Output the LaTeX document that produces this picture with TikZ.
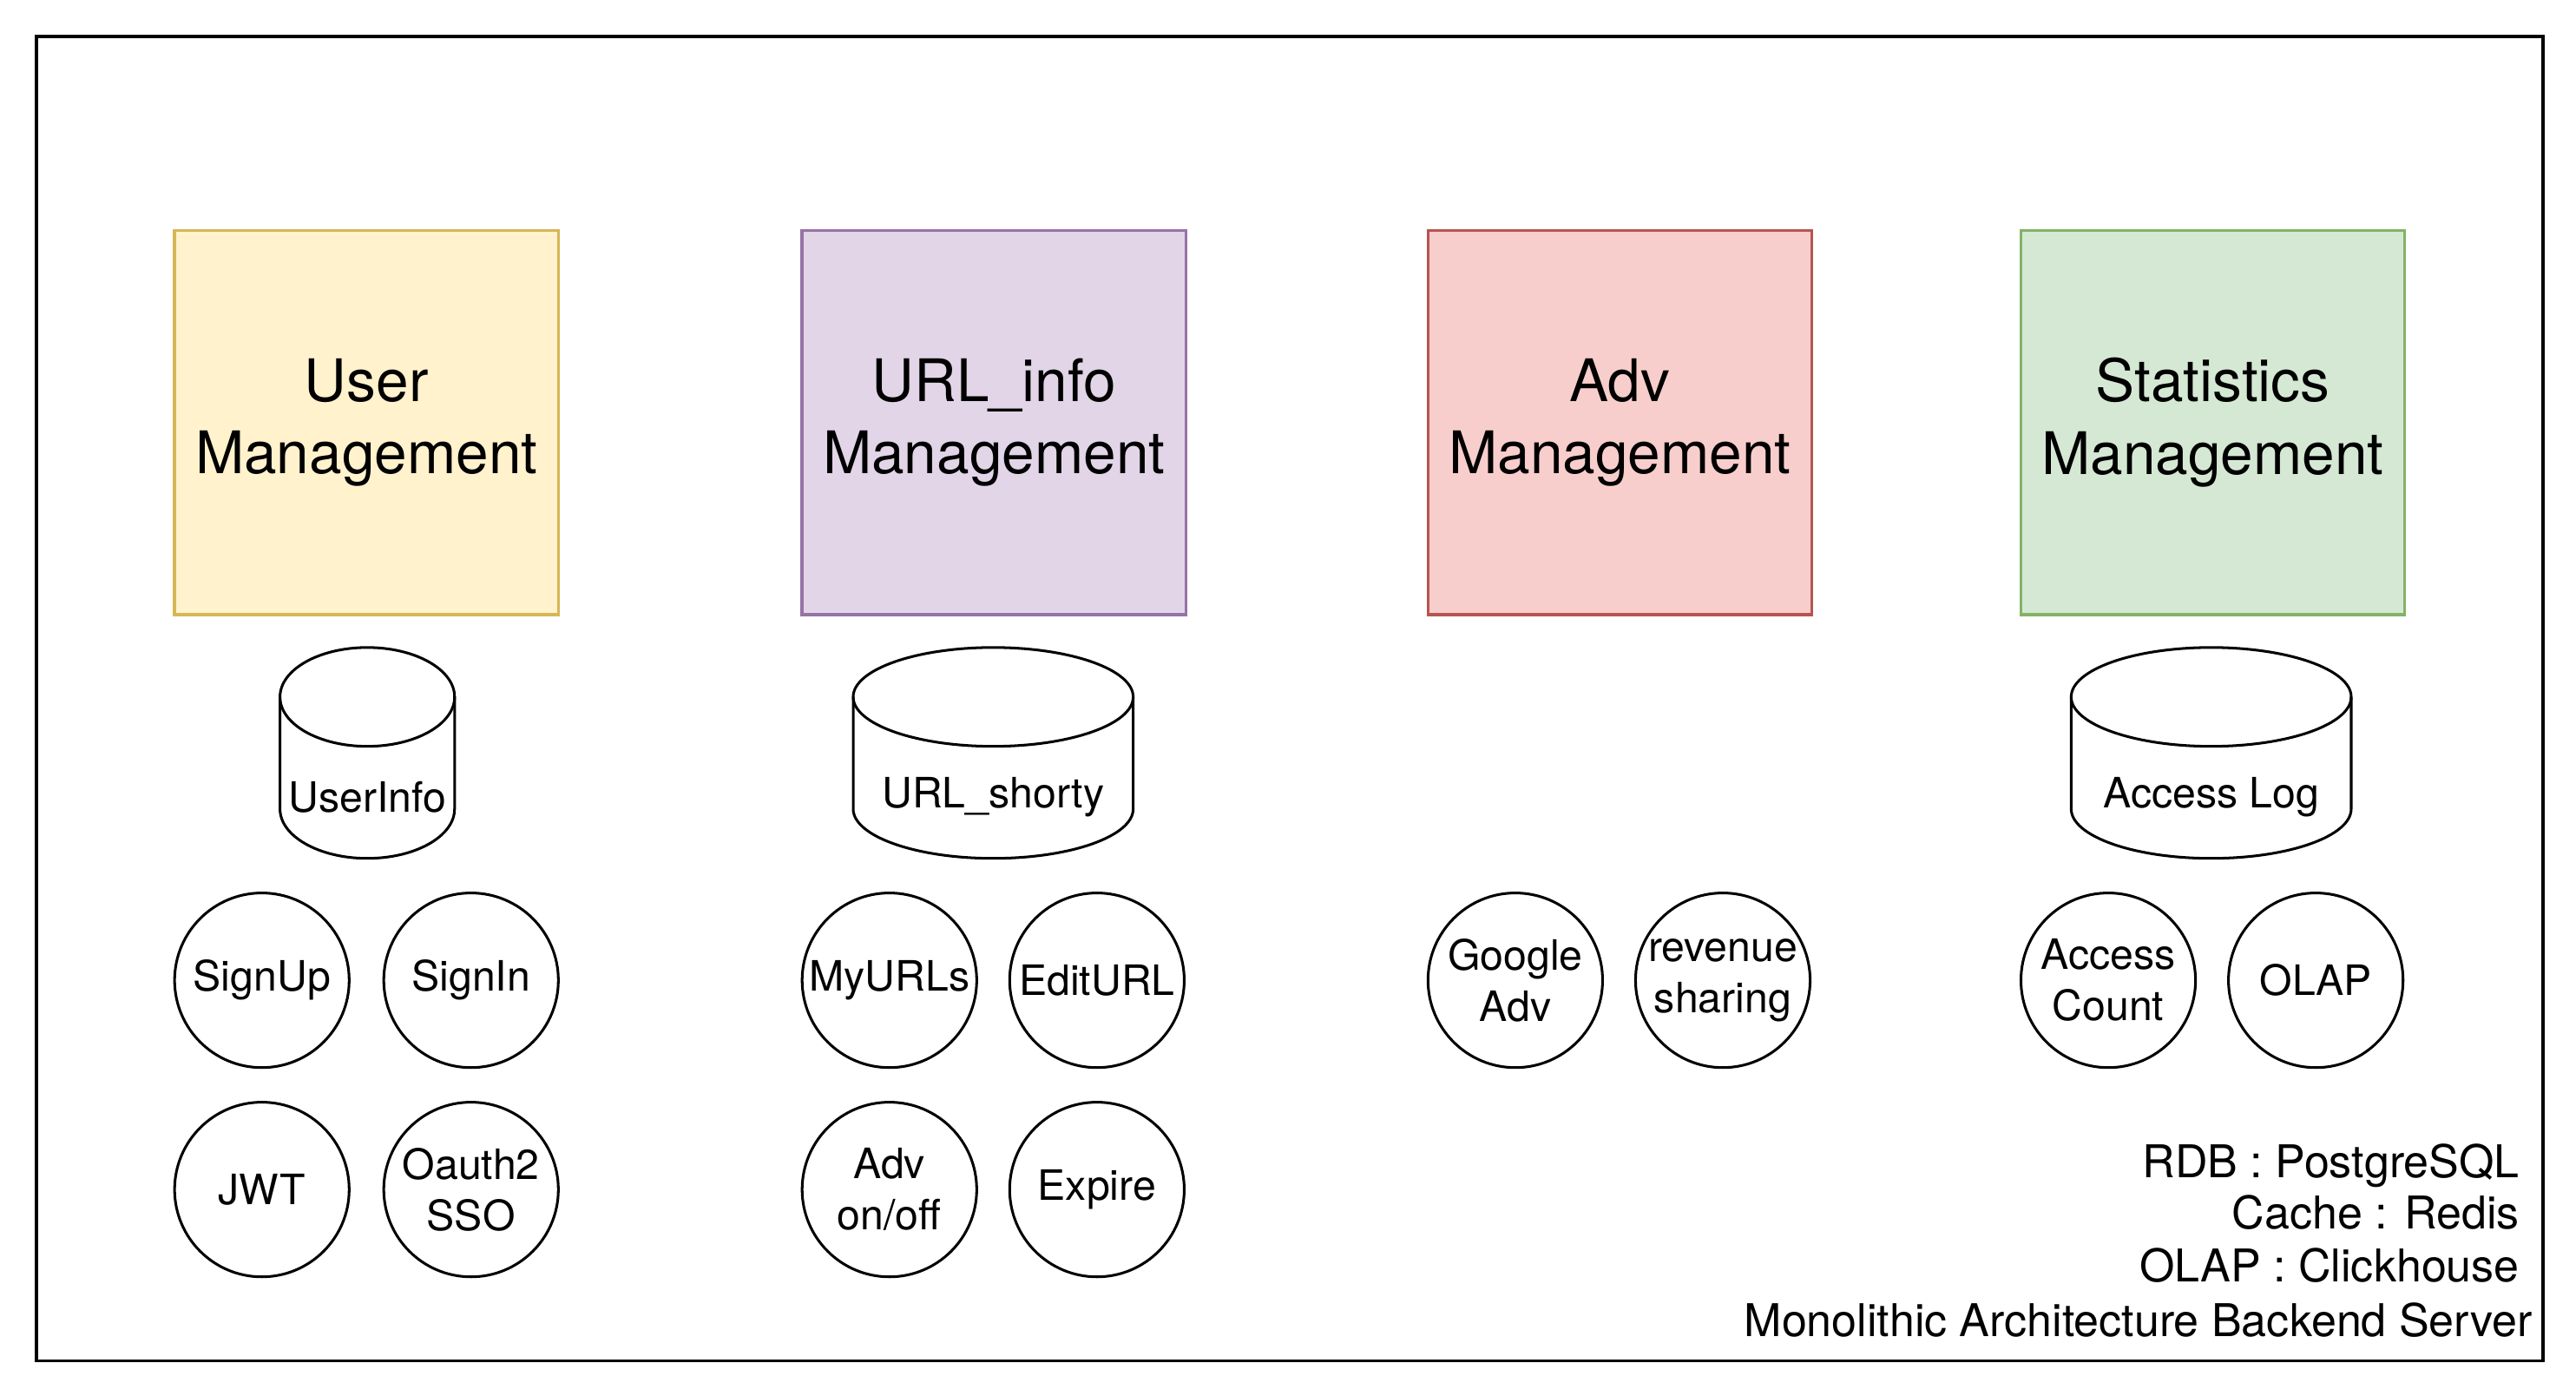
\documentclass[tikz,border=0pt]{standalone}
\usepackage{fontspec}
\setmainfont{TeX Gyre Heros}
\definecolor{yfill}{HTML}{FFF2CC}\definecolor{ydraw}{HTML}{D6B656}
\definecolor{pfill}{HTML}{E1D5E7}\definecolor{pdraw}{HTML}{9673A6}
\definecolor{rfill}{HTML}{F8CECC}\definecolor{rdraw}{HTML}{B85450}
\definecolor{gfill}{HTML}{D5E8D4}\definecolor{gdraw}{HTML}{82B366}
\tikzset{
  mgmt/.style={draw, line width=0.9pt, minimum width=116.5pt, minimum height=116.5pt, inner sep=0pt, align=center, font=\fontsize{17.8}{22}\selectfont},
  func/.style={draw, circle, line width=0.8pt, minimum size=53pt, inner sep=0pt, align=center, font=\fontsize{12.7}{15.5}\selectfont},
  dblabel/.style={inner sep=0pt, font=\fontsize{12.7}{15.5}\selectfont},
  legend/.style={inner sep=0pt, anchor=base east, font=\fontsize{13.7}{16}\selectfont},
  cyl/.style={line width=0.8pt},
}
% cylinder: cx, top y, bottom y, half width (pt), ry (pt)
\newcommand{\mycyl}[5]{%
  \draw[cyl] ($(#1,-#2)+(-#4,-#5)$) -- ($(#1,-#3)+(-#4,#5)$)
     arc[start angle=180, end angle=360, x radius=#4, y radius=#5]
     -- ($(#1,-#2)+(#4,-#5)$);
  \draw[cyl] ($(#1,-#2)+(0,-#5)$) ellipse [x radius=#4, y radius=#5];
}
\usetikzlibrary{calc}
\begin{document}
\begin{tikzpicture}[x=0.5pt,y=0.5pt]
\useasboundingbox (0,0) rectangle (1564,-847.3);
% outer frame
\draw[line width=1pt] (22,-22) rectangle (1544,-826);
% management boxes
\node[mgmt, fill=yfill, draw=ydraw] (um)  at (222.5,-256.5) {User\\Management};
\node[mgmt, fill=pfill, draw=pdraw] (uim) at (603.5,-256.5) {URL\_info\\Management};
\node[mgmt, fill=rfill, draw=rdraw] (am)  at (983.5,-256.5) {Adv\\Management};
\node[mgmt, fill=gfill, draw=gdraw] (sm)  at (1343.5,-256.5) {Statistics\\Management};
% databases
\mycyl{223}{393}{521}{26.5pt}{15pt}
\node[dblabel] (userinfo) at (223,-484) {UserInfo};
\mycyl{603}{393}{521}{42.5pt}{15pt}
\node[dblabel] (urlshorty) at (603,-484) {URL\_shorty};
\mycyl{1342.5}{393}{521}{42.5pt}{15pt}
\node[dblabel] (accesslog) at (1342.5,-484) {Access Log};
% functions
\node[func] (signup) at (159,-595) {SignUp};
\node[func] (signin) at (286,-595) {SignIn};
\node[func] (jwt)    at (159,-722) {JWT};
\node[func] (oauth)  at (286,-722) {Oauth2\\SSO};
\node[func] (myurls) at (540,-595) {MyURLs};
\node[func] (editurl) at (666,-595) {EditURL};
\node[func] (advonoff) at (540,-722) {Adv\\on/off};
\node[func] (expire) at (666,-722) {Expire};
\node[func] (gadv)   at (920,-595) {Google\\Adv};
\node[func] (revenue) at (1046,-595) {revenue\\sharing};
\node[func] (acount) at (1280,-595) {Access\\Count};
\node[func] (olap)   at (1406,-595) {OLAP};
% legend
\node[legend] (rdb)   at (1530,-715) {RDB : PostgreSQL};
\node[legend] (cache) at (1530,-746) {Cache : Redis};
\node[legend] (olapdb) at (1530,-778) {OLAP : Clickhouse};
\node[legend] (mono) at (1538,-811) {Monolithic Architecture Backend Server};
\end{tikzpicture}
\end{document}
